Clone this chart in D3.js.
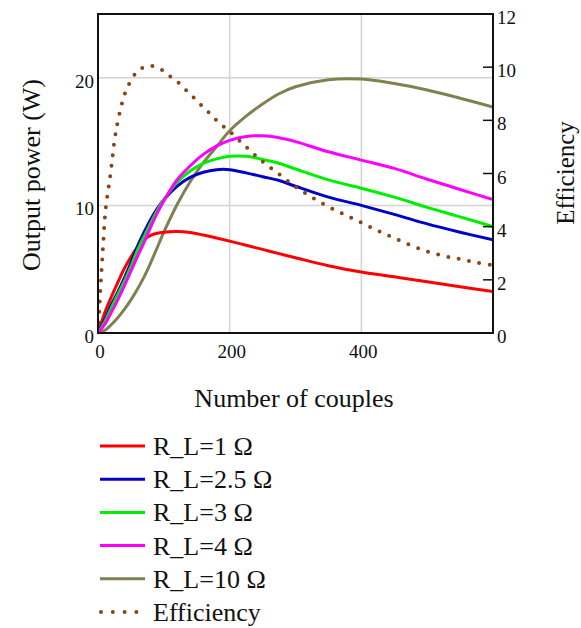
<!DOCTYPE html>
<html>
<head>
<meta charset="utf-8">
<script src="https://cdn.jsdelivr.net/npm/d3@7"></script>
<style>
  body { margin: 0; background: #fff; }
  text { font-family: "Liberation Serif", "Times New Roman", serif; fill: #111; }
</style>
</head>
<body>
<svg id="chart"></svg>
<script>
// Number of couples (x samples) for the power curves
const couples = [0, 10, 20, 30, 40, 50, 60, 70, 80, 90, 100, 120, 140, 160, 180, 200, 225, 250, 275, 300, 350, 400, 450, 500, 550, 600];

// Output power (W) for each load resistance
const power_r1 = [0, 1.55, 2.8, 3.95, 5.05, 5.95, 6.75, 7.3, 7.65, 7.82, 7.9, 7.95, 7.88, 7.68, 7.45, 7.2, 6.88, 6.55, 6.22, 5.9, 5.27, 4.78, 4.4, 4.02, 3.63, 3.25];
const power_r25 = [0, 1.0, 2.2, 3.2, 4.3, 5.5, 6.8, 7.9, 8.9, 9.75, 10.45, 11.5, 12.2, 12.6, 12.8, 12.8, 12.55, 12.25, 11.95, 11.5, 10.65, 10.0, 9.3, 8.55, 7.9, 7.3];
const power_r3 = [0, 0.85, 1.95, 3.0, 4.05, 5.2, 6.5, 7.55, 8.6, 9.6, 10.45, 11.8, 12.7, 13.3, 13.65, 13.85, 13.85, 13.6, 13.3, 12.85, 12.0, 11.35, 10.65, 9.85, 9.1, 8.35];
const power_r4 = [0, 0.65, 1.6, 2.6, 3.7, 4.85, 6.0, 7.1, 8.3, 9.4, 10.35, 12.0, 13.1, 14.0, 14.65, 15.1, 15.4, 15.45, 15.3, 15.0, 14.2, 13.55, 12.9, 12.05, 11.25, 10.45];
const power_r10 = [0, 0.2, 0.65, 1.2, 1.85, 2.6, 3.45, 4.4, 5.5, 6.7, 7.9, 10.05, 11.85, 13.35, 14.6, 15.85, 17.0, 17.95, 18.75, 19.3, 19.85, 19.9, 19.55, 19.05, 18.4, 17.7];

// Efficiency curve (right axis)
const eff_couples = [0, 2, 4, 6, 8, 10, 12, 15, 18, 21, 24, 27, 30, 35, 40, 45, 50, 60, 70, 80, 90, 100, 110, 120, 130, 140, 150, 160, 170, 180, 190, 200, 225, 250, 275, 300, 325, 350, 375, 400, 425, 450, 475, 500, 525, 550, 575, 600];
const efficiency = [0, 0.9, 1.8, 2.6, 3.4, 4.2, 4.75, 5.3, 5.8, 6.4, 7.05, 7.55, 7.95, 8.5, 8.95, 9.25, 9.5, 9.85, 10.0, 10.05, 10.0, 9.85, 9.65, 9.47, 9.22, 9.0, 8.73, 8.5, 8.25, 8.0, 7.78, 7.58, 7.0, 6.45, 5.98, 5.5, 5.1, 4.75, 4.45, 4.15, 3.85, 3.57, 3.3, 3.07, 2.9, 2.78, 2.65, 2.55];

const series_names = ["R_L=1 Ω", "R_L=2.5 Ω", "R_L=3 Ω", "R_L=4 Ω", "R_L=10 Ω"];
const series_colors = ["#ff0000", "#0000c8", "#00ee00", "#ff00ff", "#808050"];
const eff_name = "Efficiency";
const eff_color = "#8b4513";

const x_ticks = [0, 200, 400];
const yl_ticks = [0, 10, 20];
const yr_ticks = [0, 2, 4, 6, 8, 10, 12];

const width = 581, height = 628;
const margin = { top: 14, bottom: 295, left: 98, right: 88 };

const svg = d3.select("#chart")
    .attr("width", width)
    .attr("height", height);

// Scales
const xScale = d3.scaleLinear()
    .domain([0, 600])
    .range([margin.left, width - margin.right]);

const yScale = d3.scaleLinear()
    .domain([0, 25])
    .range([height - margin.bottom, margin.top]);

const yEffScale = d3.scaleLinear()
    .domain([0, 12])
    .range([height - margin.bottom, margin.top]);

const plotBottom = height - margin.bottom;
const plotRight = width - margin.right;

// Grid lines
svg.append("g")
    .attr("stroke", "#d4d4d4")
    .attr("stroke-width", 1.5)
    .selectAll("line.vgrid")
    .data(x_ticks.filter(d => d > 0))
    .enter().append("line")
    .attr("x1", d => xScale(d)).attr("x2", d => xScale(d))
    .attr("y1", margin.top).attr("y2", plotBottom);

svg.append("g")
    .attr("stroke", "#d4d4d4")
    .attr("stroke-width", 1.5)
    .selectAll("line.hgrid")
    .data(yl_ticks.filter(d => d > 0))
    .enter().append("line")
    .attr("x1", margin.left).attr("x2", plotRight)
    .attr("y1", d => yScale(d)).attr("y2", d => yScale(d));

// Clip the curves to the plot area
svg.append("clipPath").attr("id", "plotclip")
    .append("rect")
    .attr("x", margin.left).attr("y", margin.top)
    .attr("width", plotRight - margin.left)
    .attr("height", plotBottom - margin.top);

const powerLine = d3.line()
    .x((d, i) => xScale(couples[i]))
    .y(d => yScale(d))
    .curve(d3.curveCatmullRom.alpha(0.5));

const plot = svg.append("g").attr("clip-path", "url(#plotclip)");

const power_data = [power_r1, power_r25, power_r3, power_r4, power_r10];

// Draw in the order that puts olive and magenta on top
[4, 0, 1, 2, 3].forEach(function(i) {
    plot.append("path")
        .datum(power_data[i])
        .attr("fill", "none")
        .attr("stroke", series_colors[i])
        .attr("stroke-width", 3)
        .attr("d", powerLine);
});

// Efficiency dotted line
const effLine = d3.line()
    .x((d, i) => xScale(eff_couples[i]))
    .y(d => yEffScale(d))
    .curve(d3.curveCatmullRom.alpha(0.5));

plot.append("path")
    .datum(efficiency)
    .attr("fill", "none")
    .attr("stroke", eff_color)
    .attr("stroke-width", 4)
    .attr("stroke-linecap", "round")
    .attr("stroke-dasharray", "0 10.5")
    .attr("d", effLine);

// Frame
svg.append("rect")
    .attr("x", margin.left).attr("y", margin.top)
    .attr("width", plotRight - margin.left)
    .attr("height", plotBottom - margin.top)
    .attr("fill", "none")
    .attr("stroke", "#111")
    .attr("stroke-width", 2);

// Right axis ticks point inward
svg.append("g")
    .attr("stroke", "#111")
    .attr("stroke-width", 1.5)
    .selectAll("line")
    .data(yr_ticks.filter(d => d > 0 && d < 12))
    .enter().append("line")
    .attr("x1", plotRight - 10).attr("x2", plotRight)
    .attr("y1", d => yEffScale(d)).attr("y2", d => yEffScale(d));

// Tick labels
svg.append("g").selectAll("text")
    .data(yl_ticks)
    .enter().append("text")
    .attr("x", margin.left - 4)
    .attr("y", d => yScale(d) + 10)
    .attr("text-anchor", "end")
    .style("font-size", "19px")
    .text(d => d);

svg.append("g").selectAll("text")
    .data(yr_ticks)
    .enter().append("text")
    .attr("x", plotRight + 4)
    .attr("y", d => yEffScale(d) + 10)
    .style("font-size", "19px")
    .text(d => d);

svg.append("g").selectAll("text")
    .data(x_ticks)
    .enter().append("text")
    .attr("x", d => xScale(d) + 2)
    .attr("y", plotBottom + 25)
    .attr("text-anchor", "middle")
    .style("font-size", "19px")
    .text(d => d);

// Axis labels
svg.append("text")
    .attr("x", 294)
    .attr("y", 407)
    .attr("text-anchor", "middle")
    .style("font-size", "26px")
    .text("Number of couples");

svg.append("text")
    .attr("transform", "translate(40, 175) rotate(-90)")
    .attr("text-anchor", "middle")
    .style("font-size", "26px")
    .text("Output power (W)");

svg.append("text")
    .attr("transform", "translate(574, 173) rotate(-90)")
    .attr("text-anchor", "middle")
    .style("font-size", "25px")
    .text("Efficiency");

// Legend
const legend_items = series_names.map((d, i) => ({ name: d, color: series_colors[i], dotted: false }))
    .concat([{ name: eff_name, color: eff_color, dotted: true }]);

const legend = svg.selectAll(".legend")
    .data(legend_items)
    .enter().append("g")
    .attr("class", "legend")
    .attr("transform", (d, i) => "translate(0," + (446 + i * 33.2) + ")");

legend.append("line")
    .attr("x1", d => d.dotted ? 101 : 100)
    .attr("x2", 145)
    .attr("y1", 0).attr("y2", 0)
    .attr("stroke", d => d.color)
    .attr("stroke-width", d => d.dotted ? 4 : 3)
    .attr("stroke-linecap", d => d.dotted ? "round" : "butt")
    .attr("stroke-dasharray", d => d.dotted ? "0 11.8" : null);

legend.append("text")
    .attr("x", 153)
    .attr("y", 9)
    .style("font-size", "26px")
    .text(d => d.name);
</script>
</body>
</html>
